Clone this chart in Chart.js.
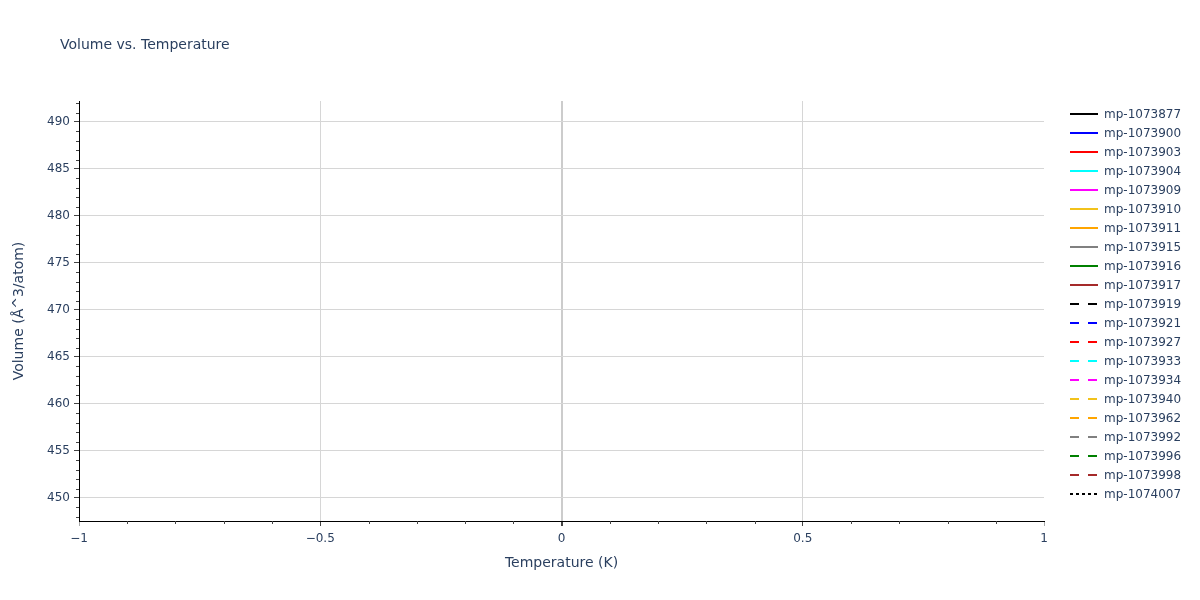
<!DOCTYPE html>
<html><head><meta charset="utf-8">
<script src="https://cdn.jsdelivr.net/npm/chart.js@4.4.1/dist/chart.umd.min.js"></script>
<style>html,body{margin:0;padding:0;background:#fff}#wrap{width:1200px;height:600px}</style>
</head><body><div id="wrap"><canvas id="c" width="1200" height="600"></canvas></div>
<script>
const chartTitle = 'Volume vs. Temperature';
const xTitle = 'Temperature (K)';
const yTitle = 'Volume (Å^3/atom)';
const seriesNames = ['mp-1073877','mp-1073900','mp-1073903','mp-1073904','mp-1073909','mp-1073910','mp-1073911','mp-1073915','mp-1073916','mp-1073917','mp-1073919','mp-1073921','mp-1073927','mp-1073933','mp-1073934','mp-1073940','mp-1073962','mp-1073992','mp-1073996','mp-1073998','mp-1074007'];
const seriesColors = ['#000000','#0000ff','#ff0000','#00ffff','#ff00ff','#f2c21b','#ffa500','#808080','#008000','#a52a2a','#000000','#0000ff','#ff0000','#00ffff','#ff00ff','#f2c21b','#ffa500','#808080','#008000','#a52a2a','#000000'];
const seriesStyles = ['solid','solid','solid','solid','solid','solid','solid','solid','solid','solid','dash','dash','dash','dash','dash','dash','dash','dash','dash','dash','dot'];
const temperatures = [0];
const volumes = [468.2,455.9,471.4,462.7,480.3,447.55,459.1,475.6,466.0,484.8,452.3,478.9,464.4,470.1,457.2,488.6,473.5,461.8,492.23,469.3,482.0];
const xTicks = [-1,-0.5,0,0.5,1];
const yTicks = [450,455,460,465,470,475,480,485,490];

const dashMap = {solid: [], dash: [9,9], dot: [3,3]};
const FONT = 'DejaVu Sans';
const TXT = '#2a3f5f';

const datasets = seriesNames.map((n,i)=>({
  label: n,
  data: temperatures.map(t=>({x:t, y:volumes[i]})),
  borderColor: seriesColors[i],
  backgroundColor: seriesColors[i],
  borderWidth: 2,
  borderDash: dashMap[seriesStyles[i]],
  pointRadius: 0,
  fill: false
}));

const decor = {
  id: 'decor',
  afterDraw(chart){
    const ctx = chart.ctx, xs = chart.scales.x, ys = chart.scales.y, ca = chart.chartArea;
    ctx.save();
    ctx.fillStyle = TXT; ctx.font = '14px "'+FONT+'"'; ctx.textBaseline='middle'; ctx.textAlign='left';
    ctx.fillText(chartTitle, 60, 45);
    ctx.strokeStyle = '#444'; ctx.lineWidth = 1;
    for (let v = Math.ceil(ys.min); v <= Math.floor(ys.max); v++) {
      if (v % 5 === 0) continue;
      const y = Math.round(ys.getPixelForValue(v)) + 0.5;
      ctx.beginPath(); ctx.moveTo(ca.left-3, y); ctx.lineTo(ca.left, y); ctx.stroke();
    }
    for (let k = -10; k <= 10; k++) {
      if (k % 5 === 0) continue;
      const x = Math.round(xs.getPixelForValue(k/10)) + 0.5;
      ctx.beginPath(); ctx.moveTo(x, ca.bottom); ctx.lineTo(x, ca.bottom+3); ctx.stroke();
    }
    ctx.font = '12px "'+FONT+'"'; ctx.textBaseline='middle';
    chart.data.datasets.forEach((d,i)=>{
      const y = 114 + 19*i;
      ctx.strokeStyle = d.borderColor; ctx.lineWidth = 2; ctx.setLineDash(d.borderDash);
      ctx.beginPath(); ctx.moveTo(1070, y); ctx.lineTo(1098, y); ctx.stroke();
      ctx.setLineDash([]);
      ctx.fillStyle = TXT; ctx.fillText(d.label, 1104, y + 1);
    });
    ctx.restore();
  }
};

new Chart(document.getElementById('c'), {
  type: 'line',
  data: {datasets},
  options: {
    responsive: false, animation: false, devicePixelRatio: 1,
    layout: {padding: {top: 101, right: 156, bottom: 0, left: 0}},
    plugins: {legend: {display: false}, title: {display: false}, tooltip: {enabled: false}},
    scales: {
      x: {
        type: 'linear', min: Math.min(...xTicks), max: Math.max(...xTicks),
        afterBuildTicks: s => { s.ticks = xTicks.map(v=>({value:v})); },
        afterFit: s => { s.height = 79; },
        ticks: {autoSkip: false, maxRotation: 0, padding: 6, color: TXT, font: {family: FONT, size: 12},
          callback: v => v < 0 ? '\u2212' + Math.abs(v) : String(v)},
        grid: {
          color: c => (c.tick && (c.tick.value === -1 || c.tick.value === 1)) ? 'rgba(0,0,0,0)' : (c.tick && c.tick.value === 0 ? '#cccccc' : '#d6d6d6'),
          lineWidth: c => (c.tick && c.tick.value === 0) ? 2 : 1,
          tickColor: c => (c.tick && (c.tick.value === -1 || c.tick.value === 1)) ? '#aaaaaa' : '#444444',
          tickLength: 5, drawTicks: true
        },
        border: {display: true, color: '#000000', width: 1},
        title: {display: true, text: xTitle, color: TXT, font: {family: FONT, size: 14}, padding: {top: 0, bottom: 28}}
      },
      y: {
        type: 'linear', min: Math.min(...volumes), max: Math.max(...volumes),
        afterBuildTicks: s => { s.ticks = yTicks.map(v=>({value:v})); },
        afterFit: s => { s.width = 79; },
        ticks: {padding: 4, color: TXT, font: {family: FONT, size: 12}},
        grid: {color: '#d6d6d6', lineWidth: 1, tickColor: '#444444', tickLength: 5, drawTicks: true},
        border: {display: true, color: '#000000', width: 1},
        title: {display: true, text: yTitle, color: TXT, font: {family: FONT, size: 14}, padding: {top: 11, bottom: 0}}
      }
    }
  },
  plugins: [decor]
});
</script></body></html>
